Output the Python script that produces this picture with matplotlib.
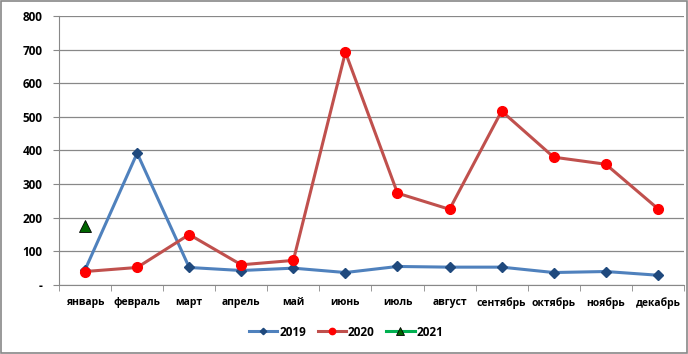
import matplotlib
matplotlib.use("Agg")
import matplotlib.pyplot as plt
import numpy as np

months = ["январь", "февраль", "март", "апрель", "май", "июнь", "июль",
          "август", "сентябрь", "октябрь", "ноябрь", "декабрь"]
s2019 = [45, 392, 52, 43, 50, 37, 55, 53, 53, 37, 40, 29]
s2020 = [40, 52, 150, 60, 73, 692, 273, 225, 517, 380, 359, 227]
s2021 = [175]
yticks = [0, 100, 200, 300, 400, 500, 600, 700, 800]
ylabels = ["-", "100", "200", "300", "400", "500", "600", "700", "800"]

plt.rcParams['font.family'] = ['Open Sans', 'DejaVu Sans']

fig = plt.figure(figsize=(6.88, 3.54), dpi=100)
ax = fig.add_axes([0.0858, 0.195, 0.9082, 0.760])

x = np.arange(len(months))
ax.plot(x, s2019, color="#4F81BD", lw=2.2, marker="D", ms=5,
        mfc="#1F497D", mec="#1F497D", label="2019", zorder=3)
ax.plot(x, s2020, color="#C0504D", lw=2.2, marker="o", ms=7,
        mfc="#FF0000", mec="#FF0000", label="2020", zorder=3)
ax.plot(x[:len(s2021)], s2021, color="#00B050", lw=2.2, marker="^", ms=8,
        mfc="#006400", mec="black", mew=0.6, label="2021", zorder=4)

ax.set_xlim(-0.5, len(months) - 0.5)
ax.set_ylim(0, 800)
ax.set_yticks(yticks)
ax.set_yticklabels(ylabels, fontsize=8.5, fontweight="bold")
ax.set_xticks(x)
ax.set_xticklabels(months, fontsize=7.5, fontweight="bold")
ax.tick_params(axis="x", length=0, pad=9)
ax.set_xticks(np.arange(-0.5, len(months), 1), minor=True)
ax.tick_params(axis="x", which="minor", length=4, color="#888888", direction="out")
ax.tick_params(axis="y", length=4, color="#888888", pad=8)

ax.grid(axis="y", color="#888888", lw=0.9)
ax.set_axisbelow(True)
for sp in ["top", "right"]:
    ax.spines[sp].set_visible(False)
ax.spines["left"].set_color("#888888")
ax.spines["bottom"].set_color("#888888")

leg = fig.legend(loc="center", bbox_to_anchor=(0.503, 0.062), ncol=3, frameon=False,
                 prop={"size": 8.5, "weight": "bold"}, handlelength=2.4,
                 columnspacing=1.0, handletextpad=0.15, markerscale=0.65)

fig.patches.append(plt.Rectangle((0.002, 0.003), 0.996, 0.994, transform=fig.transFigure,
                                 fill=False, edgecolor="#888888", lw=1.2))

fig.savefig("out.png", dpi=100)
